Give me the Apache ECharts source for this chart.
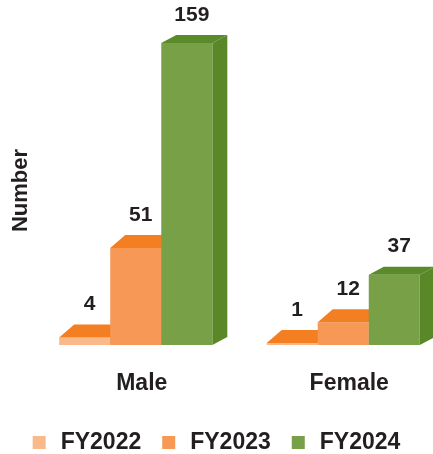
<!DOCTYPE html>
<html>
<head>
<meta charset="utf-8">
<script src="https://cdn.jsdelivr.net/npm/echarts@6/dist/echarts.min.js"></script>
<style>
  html, body { margin: 0; padding: 0; background: #fff; }
  #main { width: 433px; height: 454px; }
</style>
</head>
<body>
<div id="main"></div>
<script>
var categories = ["Male", "Female"];
var seriesNames = ["FY2022", "FY2023", "FY2024"];
var fy2022 = [4, 1];
var fy2023 = [51, 12];
var fy2024 = [159, 37];

var frontColors = ["#F9B98A", "#F79856", "#78A046"];
var topColors = ["#F47E22", "#F47E22", "#5B8A2A"];
var sideColors = ["#E8762A", "#E8762A", "#5A8728"];
var depthY = [13, 13, 8];
var depthX = 15;
var font = "'Liberation Sans', Arial, sans-serif";

var myChart = echarts.init(document.getElementById("main"));

function makeRender(idx) {
  return function (params, api) {
    var cat = api.value(0);
    var val = api.value(1);
    var band = api.size([1, 0])[0];
    var barW = band * 0.246;
    var top = api.coord([cat, val]);
    var base = api.coord([cat, 0]);
    var x0 = top[0] + (idx - 1.5) * barW;
    var x1 = x0 + barW;
    var yT = top[1];
    var yB = base[1];
    var dy = depthY[idx];
    return {
      type: "group",
      children: [
        {
          type: "polygon",
          shape: { points: [[x1, yB], [x1 + depthX, yB - dy], [x1 + depthX, yT - dy], [x1, yT]] },
          style: { fill: sideColors[idx] }
        },
        {
          type: "rect",
          shape: { x: x0, y: yT, width: barW, height: yB - yT },
          style: { fill: frontColors[idx] }
        },
        {
          type: "polygon",
          shape: { points: [[x0, yT], [x0 + depthX, yT - dy], [x1 + depthX, yT - dy], [x1, yT]] },
          style: { fill: topColors[idx] }
        },
        {
          type: "text",
          style: {
            text: String(val),
            x: x0 + barW / 2 + 5,
            y: yT - dy - 20,
            align: "center",
            verticalAlign: "middle",
            font: "bold 21px " + font,
            fill: "#231F20"
          }
        }
      ]
    };
  };
}

var allData = [fy2022, fy2023, fy2024];
var series = seriesNames.map(function (name, i) {
  return {
    name: name,
    type: "custom",
    renderItem: makeRender(i),
    itemStyle: { color: frontColors[i] },
    data: allData[i].map(function (v, c) { return [c, v]; })
  };
});

var option = {
  animation: false,
  grid: { left: 32, width: 415, top: 22, bottom: 109, outerBoundsMode: "none", containLabel: false },
  legend: {
    top: 426,
    left: "center",
    icon: "rect",
    itemWidth: 13,
    itemHeight: 13,
    itemGap: 21,
    selectedMode: false,
    textStyle: {
      fontFamily: font,
      fontWeight: "bold",
      fontSize: 23,
      color: "#231F20",
      padding: [0, 0, 0, 10]
    },
    data: seriesNames
  },
  xAxis: {
    type: "category",
    data: categories,
    axisLine: { show: false },
    axisTick: { show: false },
    axisLabel: {
      margin: 27,
      padding: [0, 0, 0, 12],
      fontFamily: font,
      fontWeight: "bold",
      fontSize: 23,
      color: "#231F20"
    }
  },
  yAxis: {
    type: "value",
    min: 0,
    max: 170,
    name: "Number",
    nameLocation: "middle",
    nameRotate: 90,
    nameGap: 0,
    nameTextStyle: {
      fontFamily: font,
      fontWeight: "bold",
      fontSize: 22,
      color: "#231F20",
      padding: [0, 14, 0, 0]
    },
    axisLine: { show: false },
    axisTick: { show: false },
    axisLabel: { show: false },
    splitLine: { show: false }
  },
  series: series
};

myChart.setOption(option);
</script>
</body>
</html>
